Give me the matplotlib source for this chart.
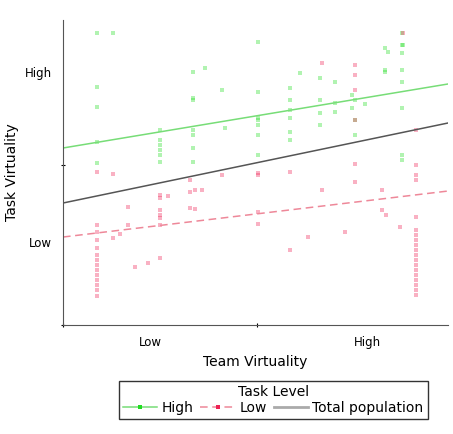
import matplotlib
matplotlib.use("Agg")
import matplotlib.pyplot as plt
from matplotlib.lines import Line2D

# values on a 0..385 (team) x 0..305 (task) score scale
high_x = [34]*5 + [50] + [97]*6 + [130]*7 + [142, 159, 162] + [195]*7 + [227]*6 + [237] \
    + [257]*4 + [272]*3 + [289]*2 + [292]*3 + [302] + [322]*3 + [325] + [339]*8 + [340]
high_y = [292, 238, 218, 183, 162, 292, 195, 175, 163, 180, 170, 185,
          253, 227, 225, 195, 190, 177, 163, 257, 235, 197,
          283, 233, 207, 205, 200, 190, 170, 237, 225, 215, 207, 193, 185, 252,
          247, 225, 212, 200, 243, 222, 213, 230, 217, 225, 205, 190, 221,
          255, 253, 277, 273, 292, 280, 272, 255, 243, 217, 170, 165, 280]

low_x = [34]*14 + [50, 50, 57, 65, 65, 72, 85] + [97]*7 + [105] + [127]*3 + [132]*2 \
    + [139, 159] + [195]*4 + [227]*2 + [259, 245, 282] + [292]*6 + [259] + [319]*2 \
    + [323, 337, 340] + [353]*19
low_y = [153, 100, 93, 85, 77, 70, 65, 60, 55, 50, 45, 40, 35, 29,
         151, 87, 91, 118, 100, 58, 62,
         130, 127, 115, 110, 107, 100, 67, 129, 145, 133, 117, 135, 116, 135, 150,
         152, 150, 113, 101, 153, 75, 135, 88, 93,
         260, 250, 235, 205, 161, 143, 262, 135, 115, 110, 98, 292,
         195, 160, 150, 145, 108, 95, 90, 85, 80, 75, 70, 65, 60, 55, 50, 45, 40, 35, 30]

# fit lines: (intercept, value at right edge)
fit_high = (177, 241)
fit_low = (88, 134)
fit_total = (122, 202)
x_edges = [0, 385]

fig = plt.figure(figsize=(4.53, 4.34), dpi=100)
ax = fig.add_axes([0.139, 0.251, 0.85, 0.703])

green = "#22dd22"
red = "#ee2255"
ax.scatter(high_x, high_y, s=9, marker="s", color=green, alpha=0.35, linewidths=0)
ax.scatter(low_x, low_y, s=9, marker="s", color=red, alpha=0.35, linewidths=0)
ax.plot(x_edges, fit_high, color="#77dd77", lw=1.1)
ax.plot(x_edges, fit_low, color="#ee8899", lw=1.1, dashes=(5, 3))
ax.plot(x_edges, fit_total, color="#555555", lw=1.1)

ax.set_xlim(0, 385)
ax.set_ylim(0, 305)
for s in ("top", "right"):
    ax.spines[s].set_visible(False)
for s in ("left", "bottom"):
    ax.spines[s].set_color("#555555")

ax.set_xticks([0, 194])
ax.set_xticklabels([])
ax.set_xticks([87, 304], minor=True)
ax.set_xticklabels(["Low", "High"], minor=True, fontsize=8.5)
ax.set_yticks([0, 160])
ax.set_yticklabels([])
ax.set_yticks([83, 253], minor=True)
ax.set_yticklabels(["Low", "High"], minor=True, fontsize=8.5)
ax.tick_params(which="major", length=3, direction="inout")
ax.tick_params(which="minor", length=0, pad=8)
ax.set_xlabel("Team Virtuality", fontsize=10)
ax.set_ylabel("Task Virtuality", fontsize=10)

handles = [
    Line2D([], [], color="#77dd77", lw=1.1, marker="s", markersize=3,
           markerfacecolor=green, markeredgewidth=0),
    Line2D([], [], color="#ee8899", lw=1.1, dashes=(5, 3), marker="s", markersize=3,
           markerfacecolor=red, markeredgewidth=0),
    Line2D([], [], color="#aaaaaa", lw=2),
]
leg = fig.legend(handles, ["High", "Low", "Total population"], title="Task Level",
                 ncol=3, loc="center", bbox_to_anchor=(0.603, 0.078),
                 fontsize=10, title_fontsize=10, frameon=True, fancybox=False,
                 handlelength=2.5, handletextpad=0.3, columnspacing=0.5,
                 borderpad=0.3, labelspacing=0.1)
leg.get_frame().set_edgecolor("black")
leg.get_frame().set_linewidth(1)

fig.savefig("out.png", dpi=100)
